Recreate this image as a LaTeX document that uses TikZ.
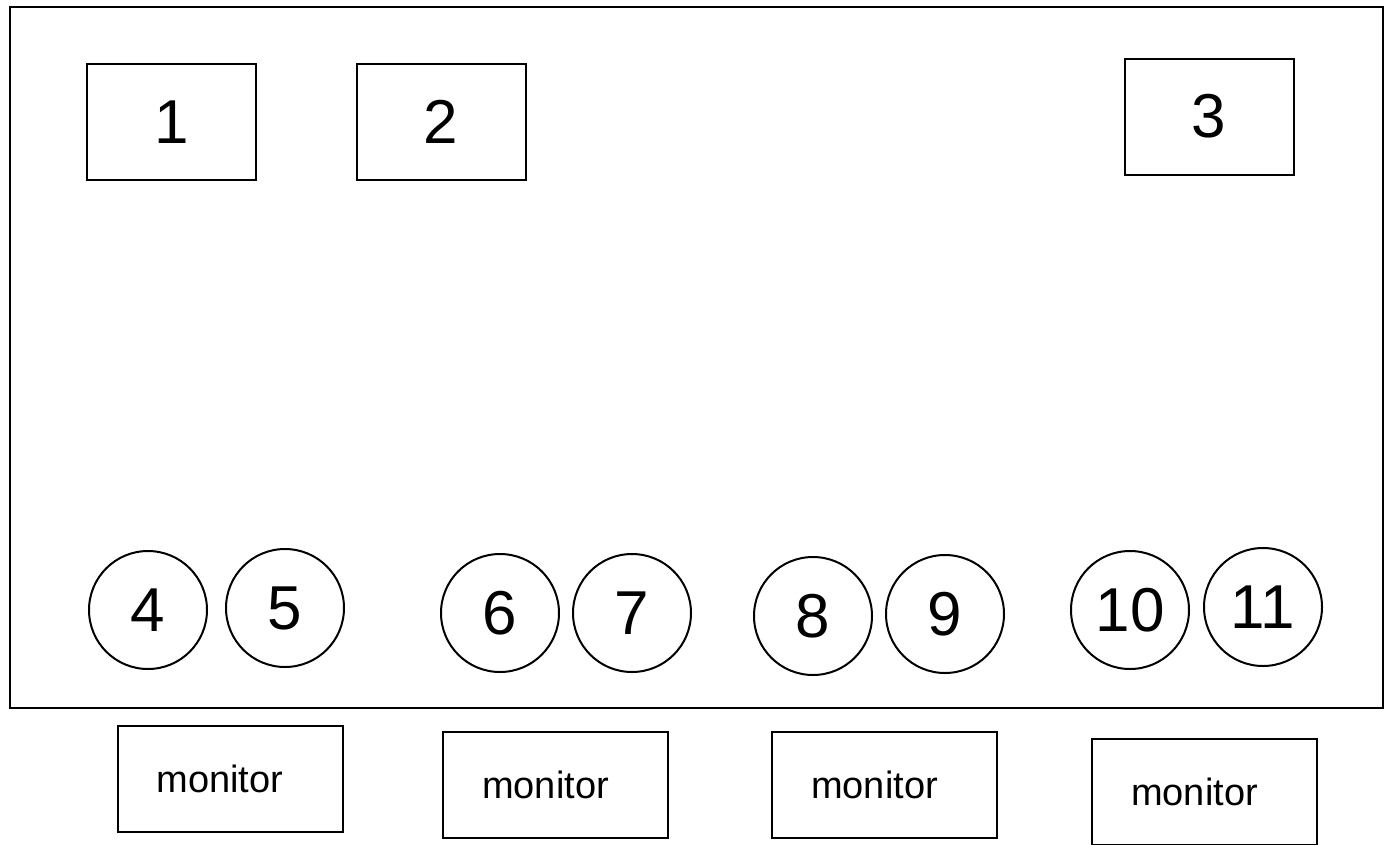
\documentclass[tikz,border=0pt]{standalone}
\usepackage{fontspec}
\setmainfont{Liberation Sans}
\usetikzlibrary{positioning}

\begin{document}
\begin{tikzpicture}[x=1pt,y=-1pt,on grid,line width=2pt,
  unit/.style={draw,rectangle,minimum width=169pt,minimum height=116pt,font=\fontsize{62}{62}\selectfont},
  seat/.style={draw,circle,minimum size=118pt,inner sep=0pt,font=\fontsize{62}{62}\selectfont},
  monitor/.style={draw,rectangle,minimum width=225pt,minimum height=106pt,font=\fontsize{38}{38}\selectfont,execute at begin node=\hspace*{-20pt}}]
\useasboundingbox (0,0) rectangle (1385,844);
\node[draw,minimum width=1373pt,minimum height=701pt] (room) at (696.5,357.5) {};
\node[unit] (u_1) at (171.5,122) {1};
\node[unit] (u_2) at (441,121.5) {2};
\node[unit] (u_3) at (1209,116.5) {3};
\node[seat] (s_4) at (148,610) {4};
\node[seat] (s_5) [right=137pt of s_4,yshift=2pt] {5};
\node[seat] (s_6) at (500,613) {6};
\node[seat] (s_7) [right=132pt of s_6] {7};
\node[seat] (s_8) at (813,616) {8};
\node[seat] (s_9) [right=132pt of s_8,yshift=2pt] {9};
\node[seat] (s_10) at (1130,610) {10};
\node[seat] (s_11) [right=133pt of s_10,yshift=3pt] {11};
\node[monitor] (m_1) at (230,779) {monitor};
\node[monitor] (m_2) at (555.5,784.5) {monitor};
\node[monitor] (m_3) at (884.5,785) {monitor};
\node[monitor] (m_4) at (1204.5,791.5) {monitor};
\end{tikzpicture}
\end{document}
